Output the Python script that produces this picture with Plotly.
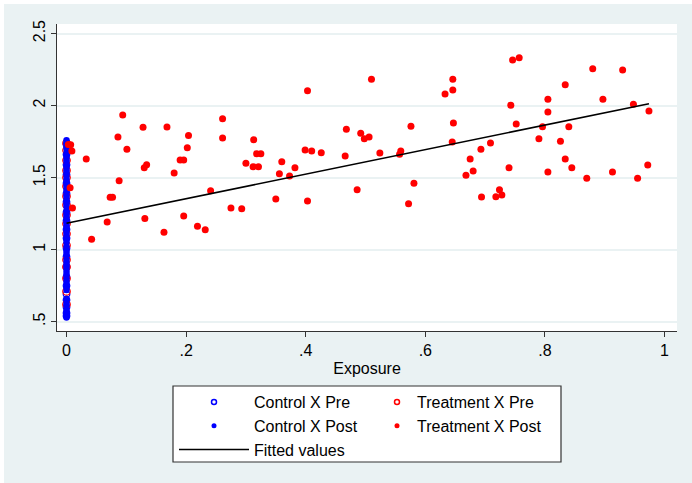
import plotly.graph_objects as go

# ---------------- data ----------------
# Treatment group, post period: exposure and outcome
treat_post_x = [0.003, 0.007, 0.009, 0.006, 0.010, 0.033, 0.042, 0.068, 0.073, 0.077,
                0.088, 0.086, 0.094, 0.101, 0.128, 0.130, 0.134, 0.131, 0.163, 0.168,
                0.180, 0.190, 0.196, 0.202, 0.204, 0.196, 0.219, 0.232, 0.241, 0.261,
                0.261, 0.403, 0.510, 0.313, 0.318, 0.325, 0.300, 0.312, 0.321, 0.360,
                0.356, 0.373, 0.382, 0.399, 0.410, 0.426, 0.466, 0.468, 0.492, 0.498,
                0.506, 0.524, 0.486, 0.403, 0.350, 0.275, 0.293, 0.746, 0.757, 0.646,
                0.633, 0.646, 0.743, 0.805, 0.805, 0.576, 0.647, 0.752, 0.796, 0.790,
                0.645, 0.709, 0.693, 0.559, 0.557, 0.675, 0.680, 0.668, 0.740, 0.805,
                0.581, 0.572, 0.694, 0.718, 0.724, 0.728, 0.880, 0.930, 0.834, 0.897,
                0.948, 0.974, 0.840, 0.826, 0.834, 0.845, 0.913, 0.870, 0.955, 0.972]
treat_post_y = [1.730, 1.728, 1.685, 1.430, 1.289, 1.629, 1.072, 1.192, 1.363, 1.363,
                1.479, 1.782, 1.934, 1.696, 1.849, 1.569, 1.590, 1.217, 1.120, 1.851,
                1.532, 1.622, 1.622, 1.708, 1.793, 1.233, 1.162, 1.138, 1.409, 1.909,
                1.775, 2.103, 2.182, 1.763, 1.666, 1.666, 1.599, 1.576, 1.576, 1.610,
                1.527, 1.511, 1.569, 1.692, 1.685, 1.673, 1.650, 1.835, 1.807, 1.770,
                1.782, 1.671, 1.416, 1.338, 1.352, 1.289, 1.284, 2.316, 2.332, 2.182,
                2.080, 2.108, 2.002, 2.043, 1.955, 1.856, 1.879, 1.872, 1.853, 1.770,
                1.747, 1.740, 1.696, 1.685, 1.662, 1.629, 1.546, 1.516, 1.569, 1.539,
                1.460, 1.319, 1.365, 1.367, 1.416, 1.379, 2.256, 2.247, 2.145, 2.043,
                2.009, 1.962, 1.853, 1.752, 1.629, 1.569, 1.539, 1.495, 1.495, 1.587]

# Treatment group, pre period (exposure = 0)
treat_pre_y = [0.62, 0.71, 0.80, 0.88, 0.93, 1.03, 1.11, 1.18, 1.24, 1.31,
               1.37, 1.44, 1.50, 1.55, 1.62, 1.69, 1.74]

# Control group (exposure = 0)
ctrl_pre_y = [0.54, 0.56, 0.60, 0.65, 0.69, 0.75, 0.81, 0.88, 0.95, 1.01,
              1.08, 1.14, 1.20, 1.26, 1.33, 1.39, 1.46, 1.52, 1.59, 1.66, 1.73]
ctrl_post_y = [0.53, 0.55, 0.58, 0.61, 0.63, 0.66, 0.72, 0.74, 0.77, 0.79,
               0.82, 0.84, 0.86, 0.89, 0.91, 0.93, 0.96, 0.98, 1.00, 1.02,
               1.05, 1.07, 1.09, 1.11, 1.13, 1.15, 1.17, 1.19, 1.21, 1.23,
               1.25, 1.27, 1.30, 1.32, 1.34, 1.36, 1.38, 1.41, 1.43, 1.45,
               1.47, 1.49, 1.52, 1.54, 1.56, 1.58, 1.61, 1.63, 1.65, 1.67,
               1.70, 1.72, 1.74, 1.76]

# Fitted line (linear fit)
fit_intercept = 1.183
fit_slope = 0.852

x_tickvals = [0, 0.2, 0.4, 0.6, 0.8, 1]
x_ticktext = ["0", ".2", ".4", ".6", ".8", "1"]
y_tickvals = [0.5, 1, 1.5, 2, 2.5]
y_ticktext = [".5", "1", "1.5", "2", "2.5"]

# ---------------- styling ----------------
W, H = 692, 483
ML, MR, MT, MB = 57, 15, 24, 152
PW, PH = W - ML - MR, H - MT - MB
BLUE = "#0000FF"
RED = "#FF0000"
BG = "#EAF2F3"
FONT = "Liberation Sans, Arial, sans-serif"


def px_x(p):
    return (p - ML) / PW


def px_y(p):
    return (H - MB - p) / PH


fig = go.Figure()

# data traces (no legend entries)
fig.add_trace(go.Scatter(x=[0] * len(ctrl_pre_y), y=ctrl_pre_y, mode="markers",
                         marker=dict(symbol="circle-open", size=6.5, color=BLUE, line=dict(width=1.3)),
                         showlegend=False, hoverinfo="skip"))
fig.add_trace(go.Scatter(x=[0] * len(treat_pre_y), y=treat_pre_y, mode="markers",
                         marker=dict(symbol="circle-open", size=7.5, color=RED, line=dict(width=1.2)),
                         showlegend=False, hoverinfo="skip"))
fig.add_trace(go.Scatter(x=[0] * len(ctrl_post_y), y=ctrl_post_y, mode="markers",
                         marker=dict(symbol="circle", size=6.5, color=BLUE, line=dict(width=0)),
                         showlegend=False, hoverinfo="skip"))
fig.add_trace(go.Scatter(x=treat_post_x, y=treat_post_y, mode="markers",
                         marker=dict(symbol="circle", size=7, color=RED, line=dict(width=0)),
                         showlegend=False, hoverinfo="skip"))
fit_x = [0, max(treat_post_x)]
fit_y = [fit_intercept + fit_slope * v for v in fit_x]
fig.add_trace(go.Scatter(x=fit_x, y=fit_y, mode="lines",
                         line=dict(color="black", width=1.6),
                         showlegend=False, hoverinfo="skip"))

# legend entries (column 1 -> legend, column 2 -> legend2)
fig.add_trace(go.Scatter(x=[None], y=[None], mode="markers", name="Control X Pre",
                         marker=dict(symbol="circle-open", size=5, color=BLUE, line=dict(width=1.5)),
                         legend="legend"))
fig.add_trace(go.Scatter(x=[None], y=[None], mode="markers", name="Treatment X Pre",
                         marker=dict(symbol="circle-open", size=5, color=RED, line=dict(width=1.5)),
                         legend="legend2"))
fig.add_trace(go.Scatter(x=[None], y=[None], mode="markers", name="Control X Post",
                         marker=dict(symbol="circle", size=5, color=BLUE),
                         legend="legend"))
fig.add_trace(go.Scatter(x=[None], y=[None], mode="markers", name="Treatment X Post",
                         marker=dict(symbol="circle", size=5, color=RED),
                         legend="legend2"))
fig.add_trace(go.Scatter(x=[None], y=[None], mode="lines", name="Fitted values",
                         line=dict(color="black", width=1.6),
                         legend="legend"))

shapes = [
    # outer graph region
    dict(type="rect", xref="paper", yref="paper", layer="below",
         x0=px_x(4), x1=px_x(W + 5), y0=px_y(H + 5), y1=px_y(4),
         fillcolor=BG, line=dict(width=0)),
    # plot region
    dict(type="rect", xref="paper", yref="paper", layer="below",
         x0=0, x1=1, y0=0, y1=1, fillcolor="white", line=dict(width=0)),
    # legend box
    dict(type="rect", xref="paper", yref="paper", layer="below",
         x0=px_x(173), x1=px_x(561), y0=px_y(462), y1=px_y(386),
         fillcolor="white", line=dict(color="#333333", width=1.2)),
]

fig.update_layout(
    width=W, height=H,
    margin=dict(l=ML, r=MR, t=MT, b=MB, pad=0),
    paper_bgcolor="white", plot_bgcolor="white",
    font=dict(family=FONT, size=16, color="black"),
    shapes=shapes,
    showlegend=True,
    legend=dict(x=px_x(174), y=px_y(385), xanchor="left", yanchor="top",
                bgcolor="rgba(0,0,0,0)", borderwidth=0, itemwidth=70,
                font=dict(family=FONT, size=16, color="black"), tracegroupgap=0),
    legend2=dict(x=px_x(377), y=px_y(385), xanchor="left", yanchor="top",
                 bgcolor="rgba(0,0,0,0)", borderwidth=0, itemwidth=30,
                 font=dict(family=FONT, size=16, color="black"), tracegroupgap=0),
    xaxis=dict(range=[-0.0159, 1.0209], tickvals=x_tickvals, ticktext=x_ticktext,
               showgrid=False, zeroline=False, showline=True, linecolor="#333333", linewidth=1,
               ticks="outside", ticklen=5, tickcolor="#333333", tickwidth=1,
               tickfont=dict(size=16), title=dict(text="Exposure", font=dict(size=16), standoff=4)),
    yaxis=dict(range=[0.4355, 2.566], tickvals=y_tickvals, ticktext=y_ticktext,
               showgrid=True, gridcolor=BG, gridwidth=1.7, zeroline=False,
               showline=True, linecolor="#333333", linewidth=1,
               ticks="outside", ticklen=5, tickcolor="#333333", tickwidth=1,
               tickangle=-90, tickfont=dict(size=16)),
)

fig.write_html("out.html")
